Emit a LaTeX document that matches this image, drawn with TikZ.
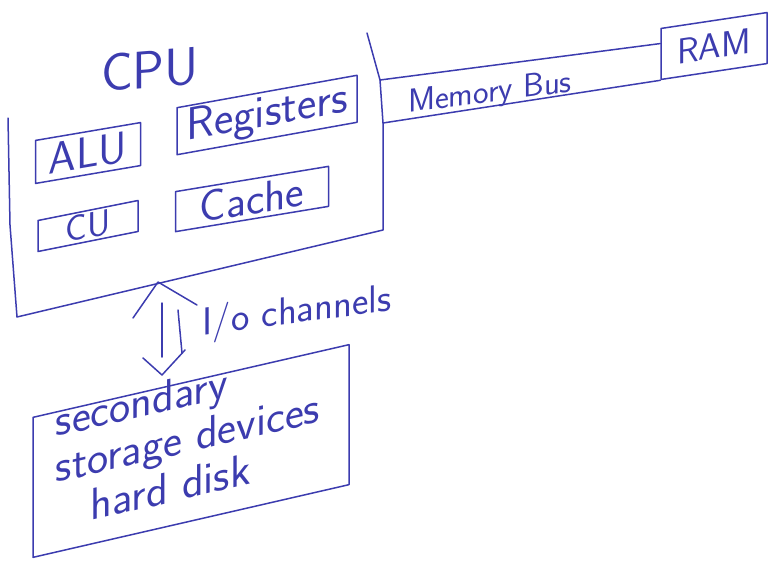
\documentclass[tikz,border=0pt]{standalone}
\usepackage{fontspec}
\usetikzlibrary{calc}
\definecolor{ink}{RGB}{60,60,175}
\tikzset{
	ink line/.style={draw=ink, line width=1.5pt, line cap=round, line join=round},
	box/.style={ink line, rectangle, inner sep=0pt},
	hand/.style={text=ink, font=\sffamily\fontsize{#1}{#1}\selectfont},
	hand/.default=30
}

\begin{document}
\begin{tikzpicture}[x=1pt, y=-1pt]
	\useasboundingbox (0,0) rectangle (779,574);

	% CPU frame (open at the top)
	\coordinate (cpu-nw) at (8,118);
	\coordinate (cpu-sw) at (17,317);
	\coordinate (cpu-se) at (383,230);
	\coordinate (cpu-ne) at (367,33);
	\coordinate (bus-top) at (380,80);
	\coordinate (bus-bot) at (383,123);
	\draw[ink line] (cpu-nw) -- (10,225) -- (cpu-sw) -- (cpu-se) -- (bus-bot) -- (bus-top) -- (cpu-ne);
	\node[hand=53, yslant=.08] (cpu) at (150,70) {CPU};

	% inside the CPU
	\node[box, hand=44, yslant=.17, minimum width=105, minimum height=43] (alu) at (88,153) {ALU};
	\node[box, hand=46, yslant=.18, minimum width=180, minimum height=47] (reg) at (267,115) {Registers};
	\node[box, hand=36, yslant=.2, minimum width=100, minimum height=31] (cu) at (88,226) {CU};
	\node[box, hand=44, yslant=.165, minimum width=153, minimum height=40] (cache) at (252,199) {Cache};

	% memory bus to RAM
	\node[box, hand=36, yslant=.15, minimum width=106, minimum height=51] (ram) at (714,46) {RAM};
	\draw[ink line] (bus-top) -- ($(ram.north west)!.3!(ram.south west)$);
	\draw[ink line] (bus-bot) -- (ram.south west);
	\node[hand=33, yslant=.13] (bus) at (490,94) {Memory Bus};

	% secondary storage
	\node[box, yslant=.23, minimum width=316, minimum height=140] (disk) at (191,451) {};
	\node[text=ink, font=\sffamily\fontsize{45}{46}\selectfont, yslant=.23, align=left] (disktxt) at (188,437)
		{secondary\\storage devices\\\hspace{35pt}hard disk};

	% I/O channels
	\coordinate (io-top) at (158,282);
	\coordinate (io-bot) at (162,375);
	\draw[ink line] (io-top) ++(-25,36) -- (io-top) -- ++(39,23);
	\draw[ink line] (io-bot) ++(-19,-17) -- (io-bot) -- ++(23,-25);
	\draw[ink line] (io-top) ++(4,21) -- ++(0,54);
	\draw[ink line] (io-top) ++(20,28) -- ++(4,43);
	\node[hand=39, yslant=.13] (io) at (297,313) {I/o channels};
\end{tikzpicture}
\end{document}
